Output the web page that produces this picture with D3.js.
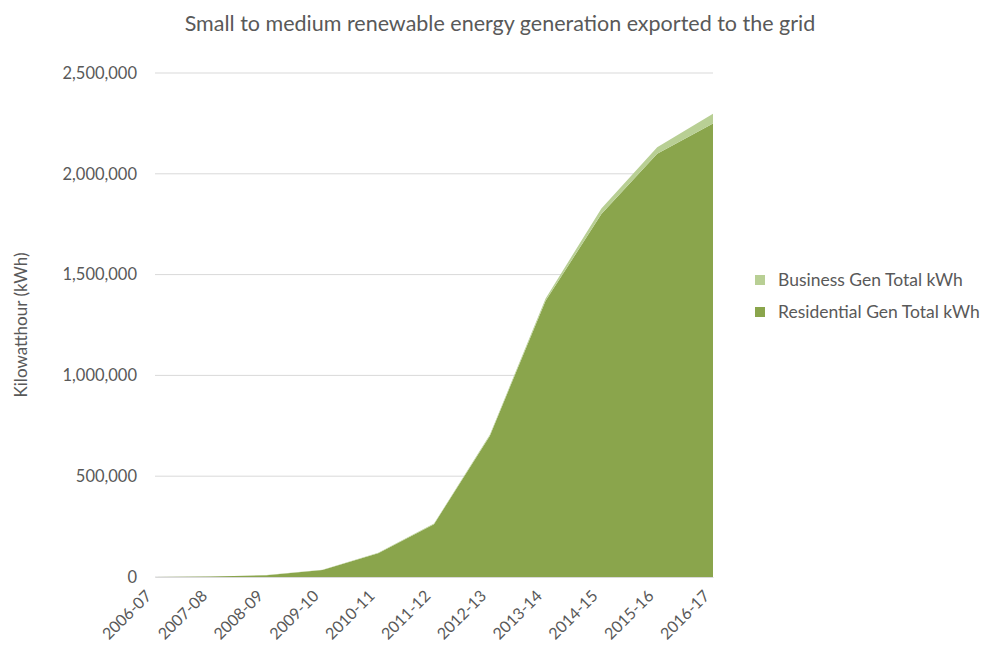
<!DOCTYPE html>
<html>
<head>
<meta charset="utf-8">
<script src="https://cdn.jsdelivr.net/npm/d3@7"></script>
<style>
  body { margin: 0; background: #fff; }
  svg { font-family: Lato, "Open Sans", sans-serif; }
</style>
</head>
<body>
<svg id="chart" width="989" height="648"></svg>
<script>
const categories = ["2006-07","2007-08","2008-09","2009-10","2010-11","2011-12","2012-13","2013-14","2014-15","2015-16","2016-17"];
const residential = [0, 2000, 9000, 35000, 118000, 262000, 700000, 1370000, 1800000, 2100000, 2250000];
const business = [0, 100, 400, 1000, 2000, 3000, 5000, 12000, 28000, 32000, 48000];
const yTicks = [0, 500000, 1000000, 1500000, 2000000, 2500000];
const seriesNames = ["Residential Gen Total kWh", "Business Gen Total kWh"];
const colors = {"Residential Gen Total kWh": "#8aa54c", "Business Gen Total kWh": "#b8cf94"};

const rows = categories.map((c, i) => ({cat: c, "Residential Gen Total kWh": residential[i], "Business Gen Total kWh": business[i]}));
const svg = d3.select("#chart");
const margin = {left: 155, right: 276, top: 73, bottom: 71};
const W = 989, H = 648;

const x = d3.scalePoint().domain(categories).range([margin.left, W - margin.right]);
const y = d3.scaleLinear().domain([0, 2500000]).range([H - margin.bottom, margin.top]);

// gridlines
svg.append("g").selectAll("line").data(yTicks).join("line")
  .attr("x1", margin.left).attr("x2", W - margin.right)
  .attr("y1", d => y(d)).attr("y2", d => y(d))
  .attr("stroke", "#d9d9d9").attr("stroke-width", 1);

const stack = d3.stack().keys(seriesNames)(rows);
const area = d3.area().x(d => x(d.data.cat)).y0(d => y(d[0])).y1(d => y(d[1]));
svg.append("g").selectAll("path").data(stack).join("path")
  .attr("d", area).attr("fill", d => colors[d.key]);

// y axis
const yAxis = d3.axisLeft(y).tickValues(yTicks).tickFormat(d3.format(",")).tickSize(0).tickPadding(18);
const gy = svg.append("g").attr("transform", `translate(${margin.left},0)`).call(yAxis);
gy.select(".domain").remove();
gy.selectAll("text").attr("fill", "#595959").style("font-size", "16.5px").style("font-family", "Lato, sans-serif");

// x axis
const xAxis = d3.axisBottom(x).tickSize(0).tickPadding(0);
const gx = svg.append("g").attr("transform", `translate(0,${H - margin.bottom})`).call(xAxis);
gx.select(".domain").attr("stroke", "#d9d9d9");
gx.selectAll("text")
  .attr("fill", "#595959").style("font-size", "16px").style("font-family", "Lato, sans-serif")
  .attr("text-anchor", "end").attr("dy", "0")
  .attr("transform", "translate(-3,20) rotate(-45)");

// title
svg.append("text").attr("x", 500).attr("y", 31).attr("text-anchor", "middle")
  .attr("fill", "#595959").style("font-size", "21.5px")
  .text("Small to medium renewable energy generation exported to the grid");

// y label
svg.append("text").attr("transform", `translate(27,${(margin.top + H - margin.bottom) / 2}) rotate(-90)`)
  .attr("text-anchor", "middle").attr("fill", "#595959").style("font-size", "17px")
  .text("Kilowatthour (kWh)");

// legend
const legendItems = ["Business Gen Total kWh", "Residential Gen Total kWh"];
const lg = svg.append("g").selectAll("g").data(legendItems).join("g")
  .attr("transform", (d, i) => `translate(755,${280 + i * 32})`);
lg.append("rect").attr("x", 0).attr("y", -5).attr("width", 10).attr("height", 10).attr("fill", d => colors[d]);
lg.append("text").attr("x", 23).attr("y", 6).attr("fill", "#595959").style("font-size", "17.5px").text(d => d);
</script>
</body>
</html>
